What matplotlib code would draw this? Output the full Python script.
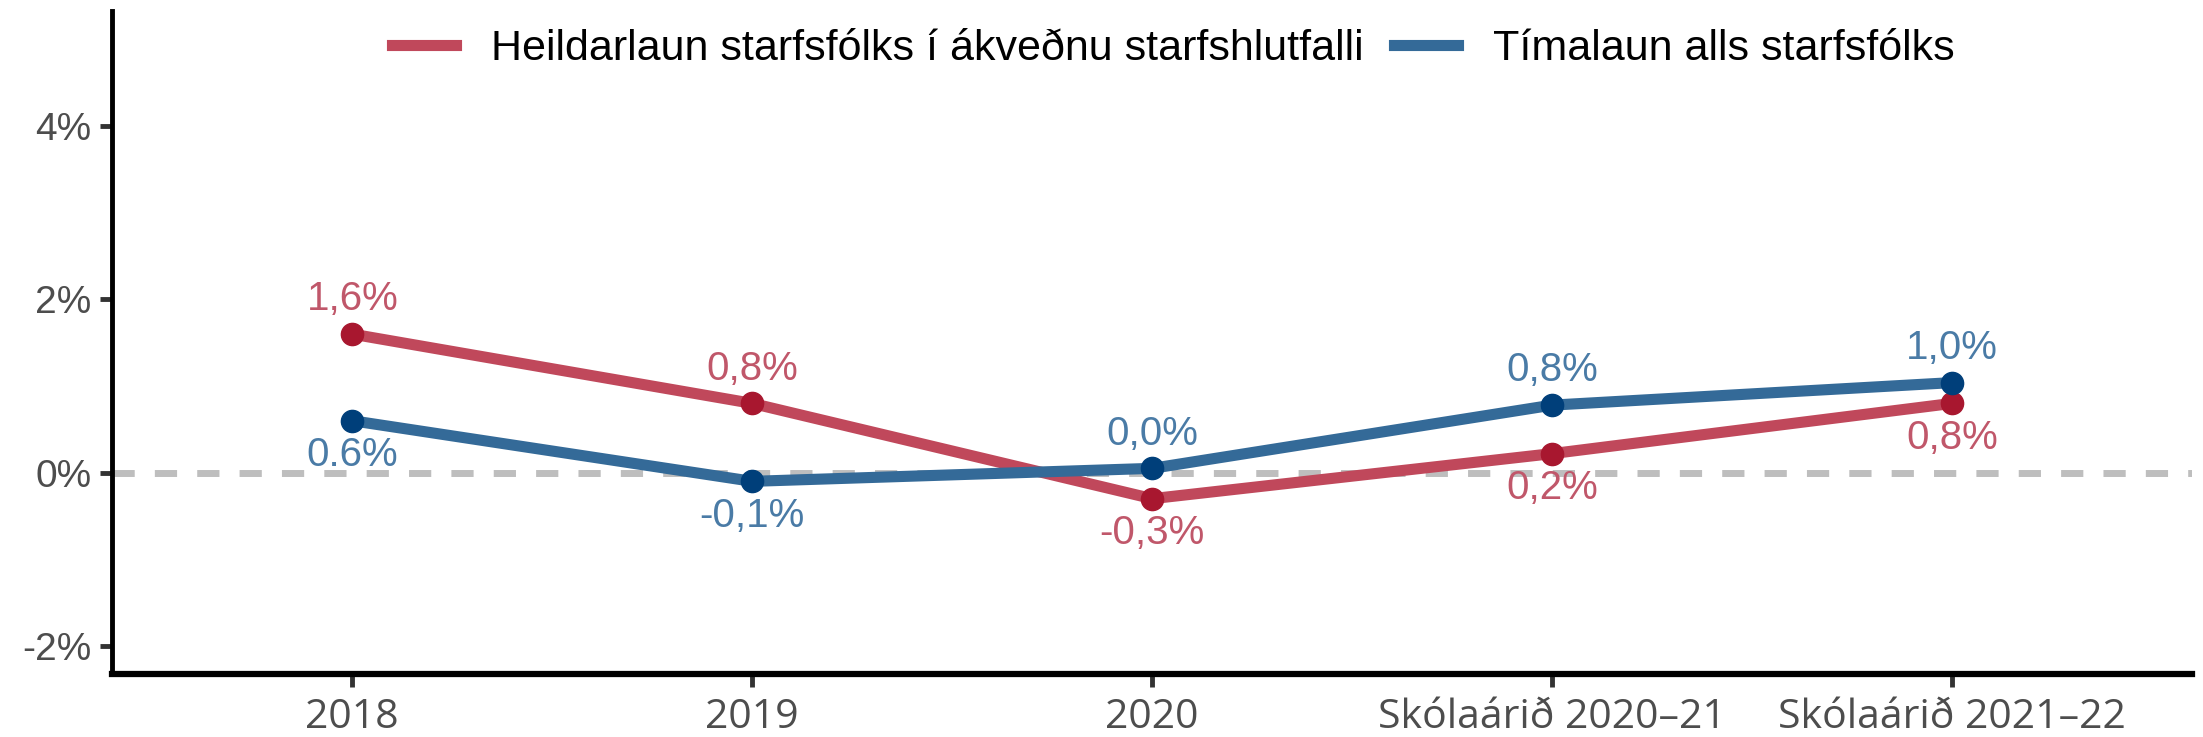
import matplotlib
matplotlib.use("Agg")
import matplotlib.pyplot as plt

# data
categories = ["2018", "2019", "2020", "Skólaárið 2020–21", "Skólaárið 2021–22"]
heildarlaun = [1.6, 0.8, -0.3, 0.22, 0.8]
timalaun = [0.6, -0.1, 0.05, 0.78, 1.04]
heildarlaun_labels = ["1,6%", "0,8%", "-0,3%", "0,2%", "0,8%"]
timalaun_labels = ["0.6%", "-0,1%", "0,0%", "0,8%", "1,0%"]
# +1 = label above point, -1 = below
heildarlaun_side = [1, 1, -1, -1, -1]
timalaun_side = [-1, -1, 1, 1, 1]
yticks = [-2, 0, 2, 4]

font = "Liberation Sans"
red_line, red_dot = "#C0485B", "#A8172F"
blue_line, blue_dot = "#346A98", "#003F7A"


def main():
	fig = plt.figure(figsize=(22.03, 7.37), dpi=100)
	ax = fig.add_axes([0.051, 0.086, 0.944, 0.899])

	x = list(range(len(categories)))

	# zero line
	ax.axhline(0, color="#BEBEBE", lw=5, ls=(0, (3.2, 2.9)), zorder=1)

	ax.plot(x, heildarlaun, color=red_line, lw=8, zorder=3,
		label="Heildarlaun starfsfólks í ákveðnu starfshlutfalli")
	ax.plot(x, heildarlaun, "o", color=red_dot, ms=16, zorder=4)
	ax.plot(x, timalaun, color=blue_line, lw=8, zorder=3,
		label="Tímalaun alls starfsfólks")
	ax.plot(x, timalaun, "o", color=blue_dot, ms=16, zorder=4)

	for xi, v, s, lab in zip(x, heildarlaun, heildarlaun_side, heildarlaun_labels):
		ax.annotate(lab, (xi, v), xytext=(0, 25 * s), textcoords="offset points",
			ha="center", va="center", fontsize=29, color="#C0576A", family=font)
	for xi, v, s, lab in zip(x, timalaun, timalaun_side, timalaun_labels):
		ax.annotate(lab, (xi, v), xytext=(0, 25 * s), textcoords="offset points",
			ha="center", va="center", fontsize=29, color="#4A7BA6", family=font)

	ax.set_xlim(-0.6, 4.6)
	ax.set_ylim(-2.32, 5.33)
	ax.set_xticks(x)
	ax.set_xticklabels(categories, fontsize=29.5, color="#4D4D4D", family="Open Sans")
	ax.set_yticks(yticks)
	ax.set_yticklabels(["%d%%" % t for t in yticks], fontsize=28, color="#4D4D4D", family=font)

	for side in ["top", "right"]:
		ax.spines[side].set_visible(False)
	ax.spines["left"].set_linewidth(3.5)
	ax.spines["bottom"].set_linewidth(4.5)
	ax.tick_params(axis="both", length=9, width=3.5, color="#333333")
	ax.tick_params(axis="x", pad=8)
	ax.tick_params(axis="y", pad=6)

	ax.legend(loc="center", bbox_to_anchor=(0.51, 0.943), ncol=2, frameon=False,
		prop={"family": font, "size": 31}, handlelength=1.5, columnspacing=0.7,
		handletextpad=0.8)

	fig.savefig("out.png", dpi=100)


if __name__ == '__main__':
	main()
